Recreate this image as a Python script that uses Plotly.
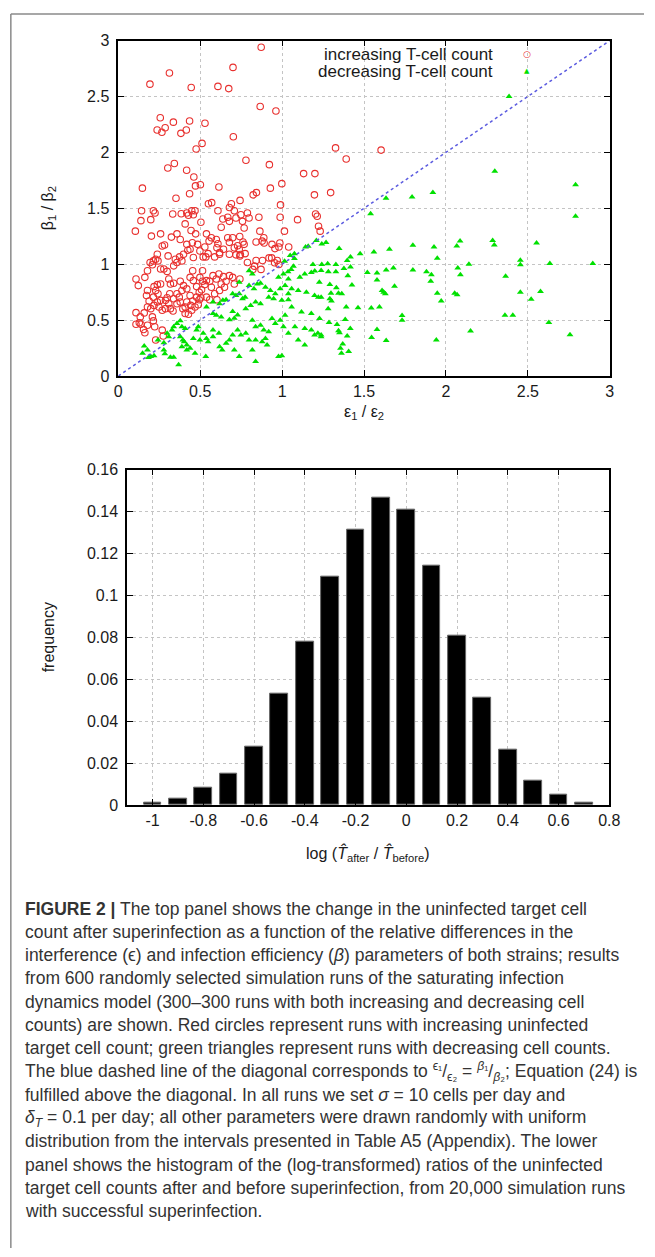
import plotly.graph_objects as go

W, H = 655, 1257

# ---------------- data: top panel (epsilon ratio, beta ratio) ----------------
red_pts = [
(0.872,2.94),(0.193,2.61),(0.312,2.71),(0.445,2.58),(0.608,2.59),(0.674,2.57),(0.700,2.76),(0.866,2.41),(0.962,2.37),
(0.256,2.31),(0.237,2.20),(0.266,2.18),(0.286,2.22),(0.336,2.27),(0.382,2.17),(0.415,2.20),(0.435,2.28),(0.529,2.26),
(0.511,2.08),(0.475,2.03),(0.702,2.14),(0.779,1.93),(0.922,1.89),(0.302,1.86),(0.342,1.90),(0.417,1.84),(0.461,1.78),
(0.471,1.70),(0.501,1.71),(0.147,1.68),(0.352,1.59),(0.435,1.63),(0.614,1.69),(0.743,1.57),(0.823,1.62),(0.843,1.64),
(0.928,1.68),(0.998,1.72),(1.131,1.81),(1.200,1.81),(1.197,1.62),(0.57,1.55),(0.55,1.54),(0.69,1.54),(0.99,1.53),
(1.326,2.04),(1.391,1.94),(1.604,2.02),(1.296,1.64),
(0.142,1.478),(0.214,1.478),(0.224,1.457),(0.332,1.448),(0.384,1.451),(0.418,1.457),(0.428,1.437),(0.448,1.478),
(0.468,1.478),(0.458,1.442),(0.408,1.36),(0.504,1.375),(0.608,1.478),(0.638,1.404),(0.628,1.33),(0.678,1.507),
(0.708,1.478),(0.678,1.383),(0.668,1.419),(0.718,1.413),(0.748,1.442),(0.758,1.383),(0.768,1.324),(0.788,1.457),
(0.798,1.413),(0.858,1.419),(0.864,1.295),(0.888,1.236),(0.878,1.206),(0.938,1.177),(0.988,1.419),(1.014,1.295),
(1.094,1.398),(1.204,1.448),(1.214,1.428),(1.222,1.339),(1.232,1.295),(0.104,1.295),(0.138,1.389),(0.198,1.398),
(0.202,1.251),(0.258,1.271),(0.268,1.162),(0.282,1.171),(0.324,1.242),(0.358,1.271),(0.378,1.221),(0.444,1.301),
(0.472,1.271),(0.418,1.177),(0.452,1.192),(0.484,1.177),(0.498,1.118),(0.528,1.153),(0.554,1.206),(0.538,1.271),
(0.568,1.236),(0.598,1.221),(0.608,1.183),(0.602,1.147),(0.618,1.103),(0.642,1.133),(0.668,1.236),(0.678,1.195),
(0.698,1.236),(0.708,1.147),(0.728,1.165),(0.738,1.133),(0.768,1.177),(0.774,1.094),(0.788,1.015),(0.718,1.083),
(0.742,1.074),(0.678,1.088),(0.588,1.065),(0.618,1.088),(0.518,1.065),(0.534,1.065),(0.548,1.094),(0.458,1.059),
(0.424,1.124),(0.438,1.133),(0.398,1.088),(0.374,1.065),(0.388,1.029),(0.348,1.044),(0.358,1.015),(0.338,0.985),
(0.304,1.074),(0.238,1.088),(0.228,1.044),(0.214,1.029),(0.242,1.029),(0.194,1.015),(0.208,0.994),(0.258,0.956),
(0.278,0.956),(0.298,0.935),(0.178,0.941),(0.162,0.882),(0.108,0.867),(0.122,0.808),(0.178,0.764),(0.172,0.72),
(0.218,0.799),(0.238,0.817),(0.258,0.823),(0.228,0.764),(0.242,0.735),(0.308,0.867),(0.318,0.823),(0.338,0.829),
(0.378,0.847),(0.398,0.808),(0.388,0.764),(0.418,0.779),(0.454,0.941),(0.438,0.882),(0.458,0.853),(0.498,0.882),
(0.514,0.941),(0.514,0.847),(0.538,0.853),(0.528,0.817),(0.558,0.847),(0.568,0.794),(0.478,0.799),(0.494,0.749),
(0.508,0.77),(0.578,0.897),(0.598,0.867),(0.614,0.912),(0.642,0.888),(0.658,0.847),(0.678,0.897),(0.698,0.882),
(0.708,0.823),(0.628,0.823),(0.648,0.794),(0.618,0.764),(0.588,0.735),(0.602,0.681),(0.538,0.705),(0.558,0.681),
(0.478,0.705),(0.494,0.681),(0.504,0.699),(0.488,0.637),(0.438,0.72),(0.454,0.67),(0.418,0.661),(0.442,0.631),
(0.408,0.617),(0.358,0.735),(0.372,0.705),(0.338,0.69),(0.378,0.661),(0.358,0.646),(0.314,0.735),(0.298,0.699),
(0.308,0.646),(0.288,0.676),(0.258,0.676),(0.238,0.661),(0.214,0.705),(0.188,0.67),(0.178,0.617),(0.198,0.602),
(0.218,0.631),(0.248,0.617),(0.268,0.587),(0.288,0.602),(0.318,0.602),(0.334,0.581),(0.394,0.602),(0.408,0.558),
(0.428,0.552),(0.448,0.587),(0.468,0.617),(0.158,0.564),(0.134,0.528),(0.108,0.566),(0.108,0.463),(0.128,0.475),
(0.138,0.463),(0.154,0.416),(0.162,0.386),(0.178,0.454),(0.214,0.493),(0.208,0.528),(0.222,0.44),(0.268,0.41),
(0.228,0.322),(0.274,0.357),(0.742,0.867),
(0.741,1.247),(0.761,1.198),(0.841,1.198),(0.890,1.189),(0.986,1.189),(0.980,1.154),(0.956,1.139),(1.04,1.154),
(0.745,1.086),(0.841,1.033),(0.880,1.033),(0.920,1.056),(0.936,1.056),(0.970,1.033),(0.980,0.997),(0.954,1.012),
(0.831,0.982),(0.871,0.953),(0.821,0.953),
]

green_pts = [
(2.385,2.50),(2.298,1.83),(2.791,1.71),(1.634,1.59),(1.793,1.60),(1.92,1.64),
(1.209,1.212),(1.242,1.18),(1.268,1.194),(1.143,1.154),(1.159,1.159),(1.348,1.139),(1.075,1.094),(1.075,1.05),
(1.049,1.077),(1.417,1.065),(1.397,1.033),(1.015,1.027),(1.188,0.997),(1.242,0.997),(1.278,1.003),(1.328,0.997),
(1.377,0.962),(1.417,0.974),(1.069,0.982),(1.055,0.953),(1.036,0.932),(1.199,0.938),(1.238,0.944),(1.282,0.932),
(1.328,0.932),
(0.158,0.268),(0.178,0.233),(0.148,0.204),(0.198,0.174),(0.218,0.18),(0.184,0.165),(0.242,0.322),(0.278,0.298),
(0.278,0.233),(0.284,0.198),(0.318,0.168),(0.338,0.168),(0.368,0.1),(0.298,0.381),(0.308,0.351),(0.328,0.41),
(0.338,0.44),(0.358,0.469),(0.378,0.493),(0.388,0.44),(0.408,0.425),(0.378,0.351),(0.394,0.322),(0.402,0.307),
(0.418,0.277),(0.388,0.262),(0.418,0.233),(0.438,0.248),(0.458,0.336),(0.468,0.204),(0.478,0.41),(0.488,0.44),
(0.518,0.381),(0.538,0.336),(0.548,0.307),(0.498,0.322),(0.534,0.174),(0.578,0.41),(0.578,0.351),(0.614,0.381),
(0.618,0.262),(0.634,0.233),(0.658,0.292),(0.678,0.322),(0.698,0.366),(0.728,0.41),(0.748,0.366),(0.708,0.233),
(0.738,0.174),(0.578,0.558),(0.598,0.543),(0.628,0.528),(0.538,0.617),(0.578,0.661),(0.618,0.646),(0.638,0.676),
(0.658,0.681),(0.698,0.735),(0.718,0.72),(0.738,0.735),(0.758,0.69),(0.774,0.705),(0.698,0.576),(0.708,0.517),
(0.678,0.502),(0.728,0.546),(0.778,0.602),(0.808,0.631),(0.838,0.661),(0.868,0.646),(0.798,0.808),(0.828,0.779),
(0.848,0.823),(0.868,0.829),(0.898,0.794),(0.928,0.764),(0.958,0.735),(0.988,0.779),(1.018,0.808),(1.058,0.779),
(0.918,0.705),(0.948,0.69),(0.998,0.676),(1.038,0.681),(0.978,0.882),(1.008,0.912),(1.038,0.867),(1.108,0.882),
(1.138,0.912),(1.178,0.926),(0.818,0.498),(0.838,0.44),(0.868,0.454),(0.888,0.41),(0.918,0.395),(0.938,0.513),
(0.958,0.469),(0.988,0.498),(1.018,0.543),(0.838,0.322),(0.878,0.307),(0.898,0.336),(0.908,0.277),(0.778,0.381),
(0.798,0.322),(0.818,0.233),(0.838,0.13),(0.978,0.174),(0.998,0.18),(1.008,0.44),(1.038,0.381),(1.078,0.44),
(1.138,0.425),(1.178,0.41),(1.218,0.381),(1.098,0.322),(1.138,0.277),(1.198,0.366),(1.238,0.351),(1.038,0.735),
(1.098,0.764),(1.148,0.749),(1.198,0.72),(1.238,0.705),(1.058,0.617),(1.118,0.572),(1.178,0.558),(1.228,0.513),
(0.798,0.941),(0.818,0.912),(0.738,0.838),
(1.54,1.451),(2.791,1.428),(2.285,1.212),(2.295,1.171),(2.553,1.189),(2.086,1.206),(2.066,1.162),(1.927,1.153),
(1.798,1.168),(1.655,1.133),(1.56,1.109),(1.476,1.094),(1.52,0.926),(1.579,0.92),(1.635,0.947),(1.679,0.965),
(1.579,0.858),(1.401,0.897),(1.426,0.814),(1.291,0.817),(1.331,0.788),(1.227,0.838),(1.298,0.74),(1.344,0.74),
(1.364,0.735),(1.221,0.705),(1.291,0.69),(1.301,0.67),(1.281,0.602),(1.391,0.617),(1.463,0.611),(1.544,0.608),
(1.594,0.617),(1.61,0.764),(1.62,0.749),(1.63,0.735),(1.686,0.802),(1.798,0.947),(1.881,0.932),(1.911,0.906),
(1.907,0.847),(1.947,0.74),(1.971,0.67),(1.947,1.053),(2.053,0.74),(2.068,0.726),(2.072,0.965),(2.088,0.906),
(2.14,1.0),(2.364,0.891),(2.454,1.035),(2.454,0.994),(2.454,0.749),(2.52,0.687),(2.577,0.755),(2.634,1.006),
(2.896,1.006),(2.36,0.543),(2.408,0.543),(1.732,0.54),(1.732,0.499),(2.628,0.478),(2.757,0.369),(2.15,0.401),
(1.941,0.322),(1.635,0.316),(1.546,0.345),(1.579,0.416),(1.385,0.504),(1.286,0.478),(1.335,0.46),(1.344,0.404),
(1.35,0.386),(1.416,0.425),(1.397,0.357),(1.238,0.366),(1.37,0.286),(1.356,0.248),(1.362,0.204),(1.406,0.218),
]

red_x = [p[0] for p in red_pts]
red_y = [p[1] for p in red_pts]
green_x = [p[0] for p in green_pts]
green_y = [p[1] for p in green_pts]
diag_x = [0, 3]
diag_y = [0, 3]

top_ticks = [0, 0.5, 1, 1.5, 2, 2.5, 3]
top_ticktext = ["0", "0.5", "1", "1.5", "2", "2.5", "3"]

# ---------------- data: bottom panel (histogram) ----------------
bin_centers = [-1.0, -0.9, -0.8, -0.7, -0.6, -0.5, -0.4, -0.3, -0.2, -0.1, 0.0, 0.1, 0.2, 0.3, 0.4, 0.5, 0.6, 0.7]
frequency = [0.0012, 0.003, 0.0082, 0.015, 0.028, 0.053, 0.078, 0.109, 0.1315, 0.1465, 0.141, 0.114, 0.081, 0.051,
             0.0265, 0.0118, 0.0048, 0.0012]
hist_xticks = [-1, -0.8, -0.6, -0.4, -0.2, 0, 0.2, 0.4, 0.6, 0.8]
hist_xticktext = ["-1", "-0.8", "-0.6", "-0.4", "-0.2", "0", "0.2", "0.4", "0.6", "0.8"]
hist_yticks = [0, 0.02, 0.04, 0.06, 0.08, 0.1, 0.12, 0.14, 0.16]
hist_yticktext = ["0", "0.02", "0.04", "0.06", "0.08", "0.1", "0.12", "0.14", "0.16"]

caption_lines = [
    "<b>FIGURE 2 |</b> The top panel shows the change in the uninfected target cell",
    "count after superinfection as a function of the relative differences in the",
    "interference (\u03f5) and infection efficiency (<i>\u03b2</i>) parameters of both strains; results",
    "from 600 randomly selected simulation runs of the saturating infection",
    "dynamics model (300\u2013300 runs with both increasing and decreasing cell",
    "counts) are shown. Red circles represent runs with increasing uninfected",
    "target cell count; green triangles represent runs with decreasing cell counts.",
    "The blue dashed line of the diagonal corresponds to <sup>\u03f5\u2081</sup>/<sub>\u03f5\u2082</sub> = "
    "<sup><i>\u03b2</i>\u2081</sup>/<sub><i>\u03b2</i>\u2082</sub>; Equation (24) is",
    "fulfilled above the diagonal. In all runs we set <i>\u03c3</i> = 10 cells per day and",
    "<i>\u03b4<sub>T</sub></i> = 0.1 per day; all other parameters were drawn randomly with uniform",
    "distribution from the intervals presented in Table A5 (Appendix). The lower",
    "panel shows the histogram of the (log-transformed) ratios of the uninfected",
    "target cell counts after and before superinfection, from 20,000 simulation runs",
    "with successful superinfection.",
]

# ---------------- helpers for layout positions (pixels -> paper) ----------------
def px(x):
    return x / W

def py(y):
    return 1 - y / H

AX_FONT = dict(family="Liberation Sans, Arial, sans-serif", size=16, color="#1a1a1a")
GRID = dict(showgrid=True, gridcolor="#c4c4c4", gridwidth=1, griddash="dot")
AXLINE = dict(showline=True, linecolor="black", linewidth=1.6, mirror="ticks", ticks="inside",
              ticklen=6, tickwidth=1.3, tickcolor="black", zeroline=False, tickfont=AX_FONT)

fig = go.Figure()

fig.add_trace(go.Scatter(
    x=red_x, y=red_y, mode="markers", xaxis="x", yaxis="y", showlegend=False,
    marker=dict(symbol="circle-open", size=6.5, color="#e8302e", line=dict(width=1.1, color="#e8302e")),
))
fig.add_trace(go.Scatter(
    x=green_x, y=green_y, mode="markers", xaxis="x", yaxis="y", showlegend=False,
    marker=dict(symbol="triangle-up", size=6, color="#00e000", line=dict(width=0)),
))
fig.add_trace(go.Scatter(
    x=diag_x, y=diag_y, mode="lines", xaxis="x", yaxis="y", showlegend=False,
    line=dict(color="#5b5be0", width=1.5, dash="dot"),
))
fig.add_trace(go.Bar(
    x=bin_centers, y=frequency, xaxis="x2", yaxis="y2", showlegend=False, width=0.07,
    marker=dict(color="black", line=dict(color="#666666", width=1)),
))

fig.update_layout(
    width=W, height=H, autosize=False,
    margin=dict(l=0, r=0, t=0, b=0),
    paper_bgcolor="white", plot_bgcolor="white",
    xaxis=dict(domain=[px(117), px(620)], range=[0, 3], tickvals=top_ticks, ticktext=top_ticktext,
               anchor="y", **GRID, **AXLINE),
    yaxis=dict(domain=[py(373), py(33)], range=[0, 3], tickvals=top_ticks, ticktext=top_ticktext,
               anchor="x", ticklabelstandoff=4, **GRID, **AXLINE),
    xaxis2=dict(domain=[px(126), px(619.5)], range=[-1.1, 0.8], tickvals=hist_xticks, ticktext=hist_xticktext,
                anchor="y2", **GRID, **AXLINE),
    yaxis2=dict(domain=[py(808), py(468)], range=[0, 0.16], tickvals=hist_yticks, ticktext=hist_yticktext,
                anchor="x2", ticklabelstandoff=4, **GRID, **AXLINE),
    bargap=0,
)

shapes = [
    # legend background box (hides the grid behind the key)
    dict(type="rect", xref="paper", yref="paper", x0=px(262), x1=px(618), y0=py(73), y1=py(35),
         fillcolor="white", line=dict(width=0), layer="between"),
    # figure frame
    dict(type="line", xref="paper", yref="paper", x0=px(7), x1=1, y0=py(6), y1=py(6),
         line=dict(color="#8a8a8a", width=1.5)),
    dict(type="line", xref="paper", yref="paper", x0=px(7), x1=px(7), y0=py(6), y1=0,
         line=dict(color="#8a8a8a", width=1.5)),
]
fig.update_layout(shapes=shapes)

LBL_FONT = dict(family="Liberation Sans, Arial, sans-serif", size=16, color="#1a1a1a")
KEY_FONT = dict(family="Liberation Sans, Arial, sans-serif", size=17, color="#1a1a1a")
ann = [
    # key
    dict(text="increasing T-cell count", x=px(502), y=py(47), xanchor="right", yanchor="middle", font=KEY_FONT),
    dict(text="decreasing T-cell count", x=px(502), y=py(64), xanchor="right", yanchor="middle", font=KEY_FONT),
    dict(text="\u25cb", x=px(535), y=py(47), xanchor="center", yanchor="middle",
         font=dict(family="DejaVu Sans", size=9, color="#e8302e")),
    dict(text="\u25b2", x=px(535), y=py(64), xanchor="center", yanchor="middle",
         font=dict(family="DejaVu Sans", size=7, color="#00e000")),
    # axis titles
    dict(text="\u03b2<sub>1</sub> / \u03b2<sub>2</sub>", x=px(45), y=py(203), textangle=-90,
         xanchor="center", yanchor="middle"),
    dict(text="\u03b5<sub>1</sub> / \u03b5<sub>2</sub>", x=px(368), y=py(410), xanchor="center", yanchor="middle"),
    dict(text="frequency", x=px(45), y=py(638), textangle=-90, xanchor="center", yanchor="middle"),
    dict(text="log (<i>T\u0302</i><sub>after</sub> / <i>T\u0302</i><sub>before</sub>)", x=px(372), y=py(857),
         xanchor="center", yanchor="middle"),
]
annotations = []
for a in ann:
    a.setdefault("font", LBL_FONT)
    a.update(xref="paper", yref="paper", showarrow=False)
    annotations.append(a)

CAP_FONT = dict(family="Liberation Sans, Arial, sans-serif", size=17.5, color="#333333")
line_y0, line_dy = 913, 23.6
for i, t in enumerate(caption_lines):
    annotations.append(dict(text=t, xref="paper", yref="paper", x=px(19), y=py(line_y0 + i * line_dy),
                            xanchor="left", yanchor="middle", showarrow=False, align="left", font=CAP_FONT))
fig.update_layout(annotations=annotations)

post = (
    "document.documentElement.style.overflow='hidden';"
    "document.body.style.margin='0';document.body.style.overflow='hidden';"
    "var gd=document.getElementById('{plot_id}');"
    "Plotly.relayout(gd,{width:%d,height:%d});" % (W, H)
)
fig.write_html("out.html", config={"displayModeBar": False, "responsive": False}, post_script=post)
